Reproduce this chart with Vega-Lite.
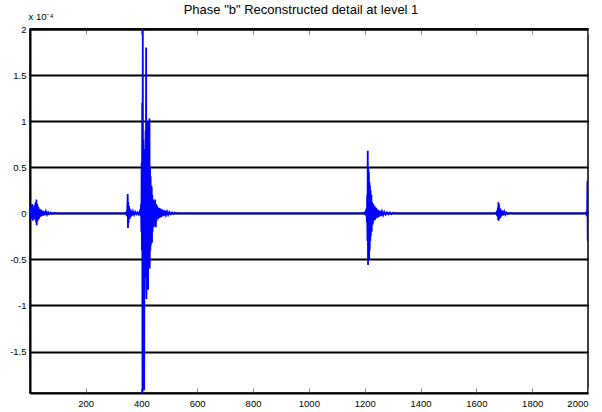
{
  "$schema": "https://vega.github.io/schema/vega-lite/v6.json",
  "width": 558,
  "height": 364,
  "autosize": {"type": "none"},
  "padding": {"left": 30, "top": 29, "right": 14, "bottom": 19},
  "background": "white",
  "title": {"text": "Phase \"b\" Reconstructed detail at level 1", "font": "Liberation Sans", "fontSize": 13, "fontWeight": "normal", "color": "black", "anchor": "middle", "frame": "group", "offset": 0, "dy": 6, "dx": -8},
  "config": {
    "view": {"stroke": "black", "strokeWidth": 1.5},
    "font": "Liberation Sans"
  },
  "data": {"values": [
    {"t":1,"v":0.02},{"t":3,"v":-0.05},{"t":5,"v":0.08},{"t":7,"v":-0.06},{"t":9,"v":0.1},{"t":11,"v":-0.08},{"t":13,"v":0.06},{"t":15,"v":-0.05},{"t":17,"v":0.09},{"t":19,"v":-0.07},{"t":21,"v":0.12},{"t":23,"v":-0.1},{"t":24,"v":0.15},{"t":25,"v":-0.13},{"t":27,"v":0.1},{"t":29,"v":-0.08},{"t":31,"v":0.07},{"t":33,"v":-0.06},{"t":35,"v":0.05},{"t":37,"v":-0.04},{"t":40,"v":0.04},{"t":43,"v":-0.03},{"t":46,"v":0.03},{"t":49,"v":-0.025},{"t":52,"v":0.02},{"t":55,"v":-0.02},{"t":58,"v":0.02},{"t":62,"v":-0.015},{"t":66,"v":0.012},{"t":70,"v":-0.01},{"t":75,"v":0.008},{"t":80,"v":-0.006},{"t":90,"v":0.004},{"t":100,"v":0},
    {"t":340,"v":0},{"t":345,"v":0.01},{"t":348,"v":-0.03},{"t":350,"v":0.08},{"t":351,"v":0.21},{"t":352,"v":-0.16},{"t":353,"v":0.12},{"t":354,"v":-0.1},{"t":356,"v":0.08},{"t":358,"v":-0.06},{"t":360,"v":0.05},{"t":362,"v":-0.04},{"t":364,"v":0.03},{"t":367,"v":-0.025},{"t":370,"v":0.02},{"t":374,"v":-0.015},{"t":378,"v":0.015},{"t":382,"v":-0.01},{"t":386,"v":0.01},{"t":390,"v":-0.01},{"t":394,"v":0.02},{"t":397,"v":-0.03},{"t":399,"v":0.1},{"t":400,"v":-0.2},{"t":401,"v":0.55},{"t":402,"v":-0.4},{"t":403,"v":1.2},{"t":404,"v":-1.95},{"t":405,"v":2.0},{"t":406,"v":-1.0},{"t":407,"v":0.8},{"t":408,"v":-1.5},{"t":409,"v":0.6},{"t":410,"v":-1.92},{"t":411,"v":0.5},{"t":412,"v":-0.6},{"t":413,"v":0.7},{"t":414,"v":-0.7},{"t":415,"v":0.9},{"t":416,"v":-0.5},{"t":417,"v":1.8},{"t":418,"v":-0.93},{"t":419,"v":0.8},{"t":420,"v":-0.6},{"t":421,"v":0.7},{"t":422,"v":-0.5},{"t":423,"v":1.0},{"t":424,"v":-0.83},{"t":425,"v":0.9},{"t":426,"v":-0.6},{"t":427,"v":0.6},{"t":428,"v":-0.5},{"t":429,"v":1.03},{"t":430,"v":-0.6},{"t":431,"v":0.5},{"t":432,"v":-0.4},{"t":433,"v":0.4},{"t":434,"v":-0.35},{"t":435,"v":0.3},{"t":436,"v":-0.3},{"t":437,"v":0.29},{"t":438,"v":-0.32},{"t":439,"v":0.2},{"t":440,"v":-0.2},{"t":442,"v":0.15},{"t":444,"v":-0.15},{"t":446,"v":0.12},{"t":448,"v":-0.1},{"t":449,"v":0.15},{"t":450,"v":-0.12},{"t":452,"v":-0.15},{"t":453,"v":0.1},{"t":455,"v":-0.08},{"t":457,"v":0.08},{"t":460,"v":-0.06},{"t":463,"v":0.06},{"t":466,"v":-0.05},{"t":469,"v":0.05},{"t":472,"v":-0.04},{"t":476,"v":0.04},{"t":480,"v":-0.03},{"t":484,"v":0.03},{"t":488,"v":-0.02},{"t":492,"v":0.02},{"t":496,"v":-0.015},{"t":500,"v":0.015},{"t":505,"v":-0.01},{"t":510,"v":0.01},{"t":515,"v":-0.008},{"t":520,"v":0.006},{"t":530,"v":0},
    {"t":1195,"v":0},{"t":1200,"v":0.01},{"t":1203,"v":-0.02},{"t":1206,"v":0.05},{"t":1208,"v":-0.1},{"t":1209,"v":0.2},{"t":1210,"v":-0.3},{"t":1211,"v":0.68},{"t":1212,"v":-0.56},{"t":1213,"v":0.5},{"t":1214,"v":-0.45},{"t":1215,"v":0.45},{"t":1216,"v":-0.5},{"t":1217,"v":0.34},{"t":1218,"v":-0.4},{"t":1219,"v":0.3},{"t":1220,"v":-0.3},{"t":1221,"v":0.25},{"t":1222,"v":-0.25},{"t":1224,"v":0.2},{"t":1225,"v":-0.2},{"t":1227,"v":0.12},{"t":1229,"v":-0.12},{"t":1231,"v":0.1},{"t":1233,"v":-0.08},{"t":1236,"v":0.08},{"t":1238,"v":-0.07},{"t":1241,"v":0.06},{"t":1244,"v":-0.05},{"t":1247,"v":0.04},{"t":1250,"v":-0.04},{"t":1254,"v":0.03},{"t":1258,"v":-0.03},{"t":1262,"v":0.02},{"t":1266,"v":-0.02},{"t":1270,"v":0.015},{"t":1275,"v":-0.015},{"t":1280,"v":0.01},{"t":1285,"v":-0.01},{"t":1290,"v":0.01},{"t":1295,"v":-0.01},{"t":1300,"v":0.005},{"t":1310,"v":0},
    {"t":1670,"v":0},{"t":1672,"v":0.01},{"t":1675,"v":-0.03},{"t":1677,"v":0.06},{"t":1678,"v":-0.07},{"t":1679,"v":0.12},{"t":1680,"v":-0.08},{"t":1681,"v":0.1},{"t":1682,"v":-0.06},{"t":1684,"v":0.06},{"t":1686,"v":-0.05},{"t":1688,"v":0.04},{"t":1690,"v":-0.03},{"t":1693,"v":0.03},{"t":1696,"v":-0.02},{"t":1700,"v":0.02},{"t":1704,"v":-0.015},{"t":1708,"v":0.01},{"t":1713,"v":-0.008},{"t":1720,"v":0.005},{"t":1730,"v":0},
    {"t":1990,"v":0},{"t":1994,"v":0.01},{"t":1996,"v":-0.03},{"t":1997,"v":0.05},{"t":1998,"v":0.35},{"t":1999,"v":-0.3},{"t":2000,"v":-0.05}
  ]},
  "layer": [
    {
      "mark": {"type": "line", "color": "#0000FF", "strokeWidth": 1.8, "clip": true, "interpolate": "linear"},
      "encoding": {
        "x": {"field": "t", "type": "quantitative", "scale": {"domain": [1, 2000], "nice": false, "zero": false},
          "axis": {"orient": "bottom", "title": null, "values": [200,400,600,800,1000,1200,1400,1600,1800,2000], "labelExpr": "'' + datum.value", "grid": false, "domainColor": "black", "domainWidth": 2, "tickColor": "#888888", "tickSize": -5, "tickWidth": 1, "labelPadding": 10, "labelFontSize": 9.5, "labelColor": "black", "labelFont": "Liberation Sans"}},
        "y": {"field": "v", "type": "quantitative", "scale": {"domain": [-1.95, 2], "nice": false, "zero": false},
          "axis": {"title": "x 10⁻⁴", "titleAngle": 0, "titleAlign": "left", "titleBaseline": "alphabetic", "titleX": -2, "titleY": -10, "titleFontSize": 9.5, "titleFontWeight": "normal", "titleColor": "black", "titleFont": "Liberation Sans",
            "values": [-1.5,-1,-0.5,0,0.5,1,1.5,2], "labelExpr": "'' + datum.value", "grid": true, "gridColor": "black", "gridWidth": 2, "gridOpacity": 1, "domainColor": "black", "domainWidth": 2, "ticks": false, "labelPadding": 4, "labelFontSize": 9.5, "labelColor": "black", "labelFont": "Liberation Sans"}}
      }
    },
    {
      "mark": {"type": "line", "opacity": 0},
      "encoding": {
        "x": {"field": "t", "type": "quantitative", "scale": {"domain": [1, 2000], "nice": false, "zero": false},
          "axis": {"orient": "top", "title": null, "values": [200,400,600,800,1000,1200,1400,1600,1800,2000], "labels": false, "grid": false, "domainColor": "black", "domainWidth": 2, "tickColor": "#888888", "tickSize": -5, "tickWidth": 1}},
        "y": {"field": "v", "type": "quantitative"}
      }
    }
  ],
  "resolve": {"axis": {"x": "independent"}}
}
